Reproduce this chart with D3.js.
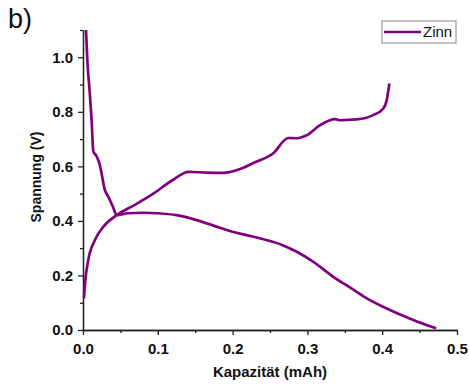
<!DOCTYPE html>
<html>
<head>
<meta charset="utf-8">
<script src="https://cdn.jsdelivr.net/npm/d3@7"></script>
<style>
  body { margin: 0; background: #fff; }
  svg { display: block; font-family: "Liberation Sans", Arial, sans-serif; }
</style>
</head>
<body>
<svg id="chart" width="469" height="386"></svg>
<script>
// Zinn: discharge branch (starts high) and charge branch (starts low)
const dischargeCap = [0.004, 0.006, 0.009, 0.0115, 0.0138, 0.018, 0.022, 0.0255, 0.0285, 0.034, 0.040, 0.045,
  0.060, 0.081, 0.100, 0.125, 0.152, 0.183, 0.200, 0.220, 0.245, 0.266, 0.2857, 0.308, 0.3346, 0.361, 0.380,
  0.406, 0.4416, 0.472];
const dischargeVolt = [1.10, 0.98, 0.87, 0.77, 0.655, 0.638, 0.61, 0.565, 0.52, 0.488, 0.452, 0.421,
  0.428, 0.430, 0.428, 0.421, 0.403, 0.375, 0.360, 0.347, 0.330, 0.312, 0.287, 0.250, 0.195, 0.149, 0.115,
  0.079, 0.037, 0.006];

const chargeCap = [0.0013, 0.0027, 0.007, 0.016, 0.027, 0.045, 0.070, 0.094, 0.120, 0.141, 0.165, 0.188,
  0.210, 0.230, 0.254, 0.2745, 0.285, 0.299, 0.317, 0.337, 0.3436, 0.366, 0.388, 0.4015, 0.406, 0.4096];
const chargeVolt = [0.116, 0.171, 0.256, 0.330, 0.378, 0.421, 0.460, 0.500, 0.550, 0.580, 0.577, 0.576,
  0.590, 0.615, 0.647, 0.704, 0.703, 0.714, 0.751, 0.773, 0.769, 0.772, 0.788, 0.812, 0.842, 0.904];

const xMajor = [0.0, 0.1, 0.2, 0.3, 0.4, 0.5];
const xMinor = [0.05, 0.15, 0.25, 0.35, 0.45];
const yMajor = [0.0, 0.2, 0.4, 0.6, 0.8, 1.0];
const yMinor = [0.1, 0.3, 0.5, 0.7, 0.9, 1.1];

const seriesName = 'Zinn';
const lineColor = '#800080';

const margin = {top: 30, right: 12, bottom: 56, left: 83};
const width = 469, height = 386;

const svg = d3.select('#chart');

const xScale = d3.scaleLinear().domain([0, 0.5]).range([margin.left, width - margin.right]);
const yScale = d3.scaleLinear().domain([0, 1.1]).range([height - margin.bottom, margin.top]);

const fmt = d3.format('.1f');

// x axis
const xAxisG = svg.append('g')
  .attr('transform', `translate(0,${yScale(0)})`);
xAxisG.call(d3.axisBottom(xScale).tickValues(xMajor).tickFormat(fmt).tickSize(5).tickSizeOuter(0).tickPadding(8));
xAxisG.append('g').call(d3.axisBottom(xScale).tickValues(xMinor).tickFormat('').tickSize(3).tickSizeOuter(0));

// y axis
const yAxisG = svg.append('g')
  .attr('transform', `translate(${xScale(0)},0)`);
yAxisG.call(d3.axisLeft(yScale).tickValues(yMajor).tickFormat(fmt).tickSize(5).tickSizeOuter(0).tickPadding(5));
yAxisG.append('g').call(d3.axisLeft(yScale).tickValues(yMinor).tickFormat('').tickSize(3).tickSizeOuter(0));

svg.selectAll('.domain, .tick line').attr('stroke', '#222').attr('stroke-width', 1.3);
svg.selectAll('.tick text')
  .attr('font-size', 15).attr('font-weight', 'bold').attr('fill', '#111')
  .attr('font-family', '"Liberation Sans", Arial, sans-serif');

// curves
const line = d3.line()
  .x(d => xScale(d[0]))
  .y(d => yScale(d[1]))
  .curve(d3.curveMonotoneX);

const curves = [
  d3.zip(dischargeCap, dischargeVolt),
  d3.zip(chargeCap, chargeVolt)
];

svg.append('g')
  .selectAll('path')
  .data(curves)
  .join('path')
  .attr('d', line)
  .attr('fill', 'none')
  .attr('stroke', lineColor)
  .attr('stroke-width', 2.7)
  .attr('stroke-linejoin', 'round');

// axis titles
svg.append('text')
  .attr('x', (xScale(0) + xScale(0.5)) / 2)
  .attr('y', 377)
  .attr('text-anchor', 'middle')
  .attr('font-size', 15).attr('font-weight', 'bold').attr('fill', '#111')
  .text('Kapazität (mAh)');

svg.append('text')
  .attr('transform', 'translate(41,177) rotate(-90)')
  .attr('text-anchor', 'middle')
  .attr('font-size', 14).attr('font-weight', 'bold').attr('fill', '#111')
  .text('Spannung (V)');

// panel label
svg.append('text')
  .attr('x', 8).attr('y', 28)
  .attr('font-size', 27).attr('fill', '#111')
  .text('b)');

// legend
const legend = svg.append('g').attr('transform', 'translate(382,21)');
legend.append('rect')
  .attr('width', 74).attr('height', 22)
  .attr('fill', '#fff').attr('stroke', '#888').attr('stroke-width', 1);
legend.append('line')
  .attr('x1', 2).attr('x2', 39).attr('y1', 11).attr('y2', 11)
  .attr('stroke', lineColor).attr('stroke-width', 2.7);
legend.append('text')
  .attr('x', 41).attr('y', 16)
  .attr('font-size', 15).attr('fill', '#111')
  .text(seriesName);
</script>
</body>
</html>
